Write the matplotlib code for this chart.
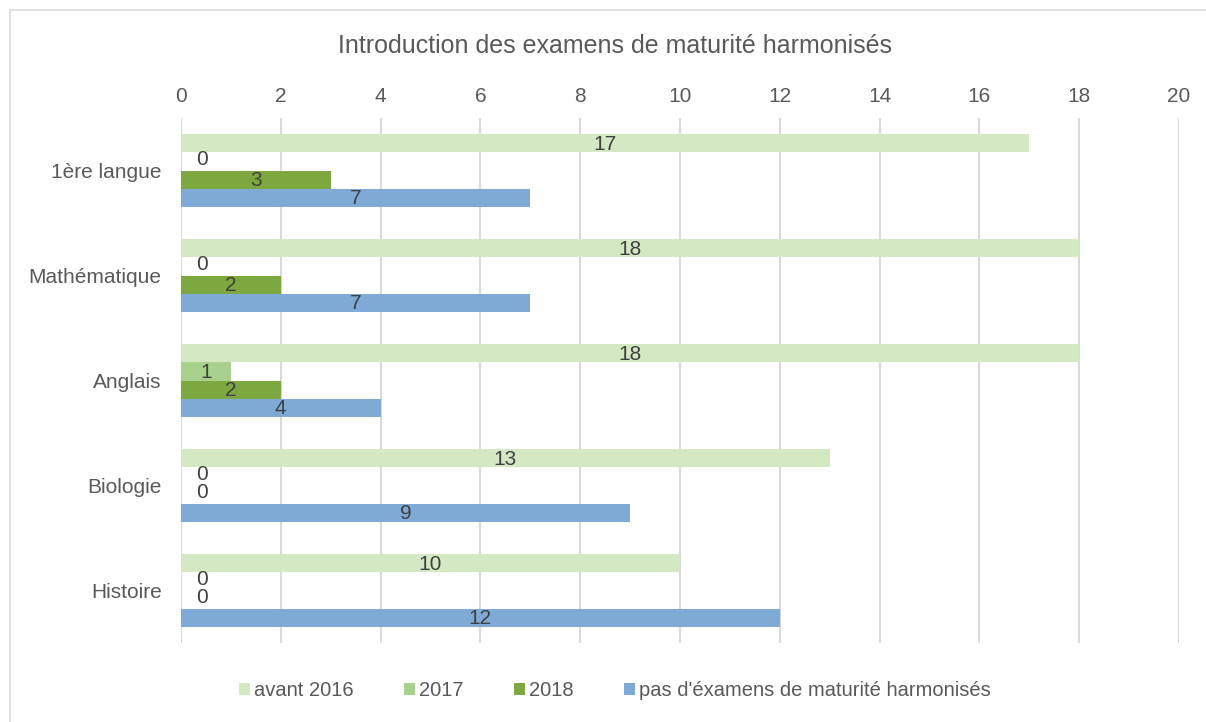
import numpy as np
import matplotlib.pyplot as plt
from matplotlib.patches import Rectangle

plt.rcParams['font.family'] = ['Liberation Sans', 'DejaVu Sans']
plt.rcParams['font.size'] = 15

categories = ['1ère langue', 'Mathématique', 'Anglais', 'Biologie', 'Histoire']
series_names = ['avant 2016', '2017', '2018', "pas d'éxamens de maturité harmonisés"]
avant_2016 = [17, 18, 18, 13, 10]
an_2017 = [0, 0, 1, 0, 0]
an_2018 = [3, 2, 2, 0, 0]
pas_harmonises = [7, 7, 4, 9, 12]
colors = ['#d5e8c4', '#a9d18e', '#7ca83f', '#80aad6']
xticks = [0, 2, 4, 6, 8, 10, 12, 14, 16, 18, 20]

txt = '#595959'
grid = '#d9d9d9'

fig = plt.figure(figsize=(12.06, 7.22), dpi=100)
# chart area border (only left and top visible in the reference)
fig.patches.append(Rectangle((10 / 1206, -0.1), 1.2, 1.1 - 10 / 722,
                             transform=fig.transFigure, fill=False,
                             edgecolor=grid, linewidth=1.2))
ax = fig.add_axes([181 / 1206, 1 - 643 / 722, 998 / 1206, 525 / 722])

y = np.arange(len(categories))
h = 0.172
all_series = [avant_2016, an_2017, an_2018, pas_harmonises]
for i, (vals, name, c) in enumerate(zip(all_series, series_names, colors)):
    pos = y + (i - 1.5) * h
    ax.barh(pos, vals, height=h, color=c, label=name, zorder=3)
    for p, v in zip(pos, vals):
        xl = v / 2 if v > 0 else 0.42
        yl = p + 0.01 if v > 0 else p - 0.02
        ax.text(xl, yl, str(v), ha='center', va='center', color='#404040',
                fontsize=15, zorder=4)

ax.set_ylim(len(categories) - 0.5, -0.5)
ax.set_xlim(0, 20)
ax.set_xticks(xticks)
ax.set_yticks(y)
ax.set_yticklabels(categories)
ax.xaxis.tick_top()
ax.tick_params(axis='x', length=0, pad=9, colors=txt, labelsize=15)
ax.tick_params(axis='y', length=0, pad=14, colors=txt, labelsize=15)
ax.grid(axis='x', color=grid, linewidth=1.5, zorder=0)
for s in ax.spines.values():
    s.set_visible(False)

fig.text(615 / 1206, 1 - 46 / 722, 'Introduction des examens de maturité harmonisés',
         ha='center', va='center', color=txt, fontsize=18)

fig.legend(loc='center', bbox_to_anchor=(615 / 1206, 1 - 691 / 722), ncol=4,
           frameon=False, handlelength=0.55, handleheight=0.55, handletextpad=0.2,
           columnspacing=2.5, labelcolor=txt, fontsize=14.5)

fig.savefig('out.png', dpi=100)
